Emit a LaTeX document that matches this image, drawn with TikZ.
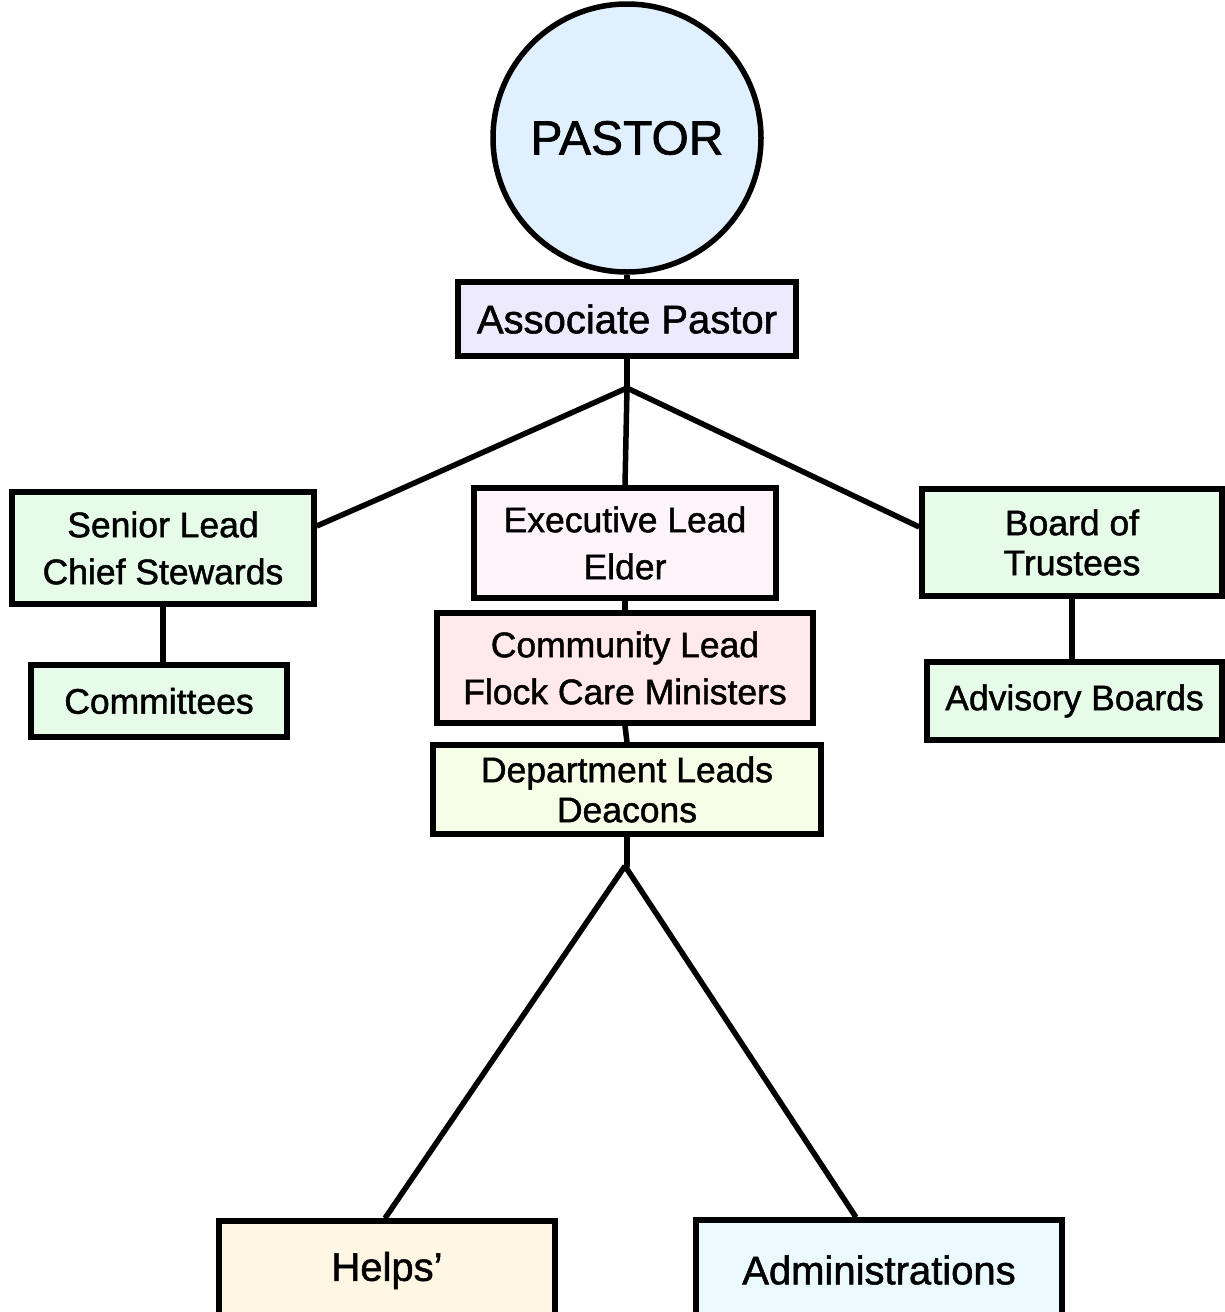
\documentclass[tikz,border=0pt]{standalone}
\usepackage{fontspec}
\setmainfont[FakeBold=1.3]{Liberation Sans}
\definecolor{cpastor}{HTML}{E0F0FF}
\definecolor{cassoc}{HTML}{EEEAFE}
\definecolor{cgreen}{HTML}{E6FCE9}
\definecolor{cexec}{HTML}{FFF4FA}
\definecolor{ccomm}{HTML}{FFE9EA}
\definecolor{cdept}{HTML}{F7FEE8}
\definecolor{chelps}{HTML}{FFF6E3}
\definecolor{cadmin}{HTML}{EBFAFF}
\begin{document}
\begin{tikzpicture}[x=1pt,y=-1pt,
  box/.style={draw=black,line width=5.5pt,rectangle,inner sep=0pt,align=center,
    font=\fontsize{35.5}{47}\selectfont},
  tightbox/.style={box,font=\fontsize{35.5}{40}\selectfont},
  bigbox/.style={box,font=\fontsize{40}{46}\selectfont},
  link/.style={line width=5.5pt,line join=round}]
\useasboundingbox (0,0) rectangle (1225,1312);
\fill[white] (0,0) rectangle (1225,1312);
% nodes
\node[circle,draw=black,line width=5.5pt,fill=cpastor,minimum size=268pt,inner sep=0pt,
  font=\fontsize{48}{56}\selectfont] (pastor) at (627,138) {PASTOR};
\node[bigbox,fill=cassoc,minimum width=338pt,minimum height=74pt] (assoc) at (627,319) {Associate Pastor};
\node[box,fill=cgreen,minimum width=302pt,minimum height=112pt] (senior) at (163,548) {Senior Lead\\Chief Stewards};
\node[box,fill=cgreen,minimum width=256pt,minimum height=72pt] (committees) at (159,701) {Committees};
\node[box,fill=cexec,minimum width=302pt,minimum height=110pt] (exec) at (625,543) {Executive Lead\\Elder};
\node[box,fill=ccomm,minimum width=376pt,minimum height=110pt] (comm) at (625,668) {Community Lead\\Flock Care Ministers};
\node[tightbox,fill=cdept,minimum width=388pt,minimum height=89pt] (dept) at (627,789.5) {Department Leads\\Deacons};
\node[tightbox,fill=cgreen,minimum width=300pt,minimum height=107pt] (board) at (1072,542.5) {Board of\\Trustees};
\node[box,fill=cgreen,minimum width=295pt,minimum height=78pt] (advisory) at (1074.5,701) {Advisory Boards};
\node[bigbox,fill=chelps,minimum width=336pt,minimum height=99pt] (helps) at (387,1270.5) {Helps’};
\node[bigbox,fill=cadmin,minimum width=366pt,minimum height=100pt] (admin) at (879,1270) {Administrations};
% junctions
\coordinate (j1) at (627,388);
\coordinate (bendL) at (383,497);
\coordinate (j2) at (625,866);
% connectors
\draw[link] (pastor.south) -- (assoc.north);
\draw[link] (assoc.south) -- (j1);
\draw[link] (j1) -- (bendL) -- ([yshift=22pt]senior.east);
\draw[link] (j1) -- (exec.north);
\draw[link] (j1) -- ([yshift=15.5pt]board.west);
\draw[link] (senior.south) -- (senior.south |- committees.north);
\draw[link] (board.south) -- (board.south |- advisory.north);
\draw[link] (exec.south) -- (comm.north);
\draw[link] (comm.south) -- (dept.north);
\draw[link] (dept.south) -- (dept.south |- j2) -- (j2);
\draw[link] (j2) -- ([xshift=-2pt]helps.north);
\draw[link] (j2) -- ([xshift=-23pt]admin.north);
\end{tikzpicture}
\end{document}
